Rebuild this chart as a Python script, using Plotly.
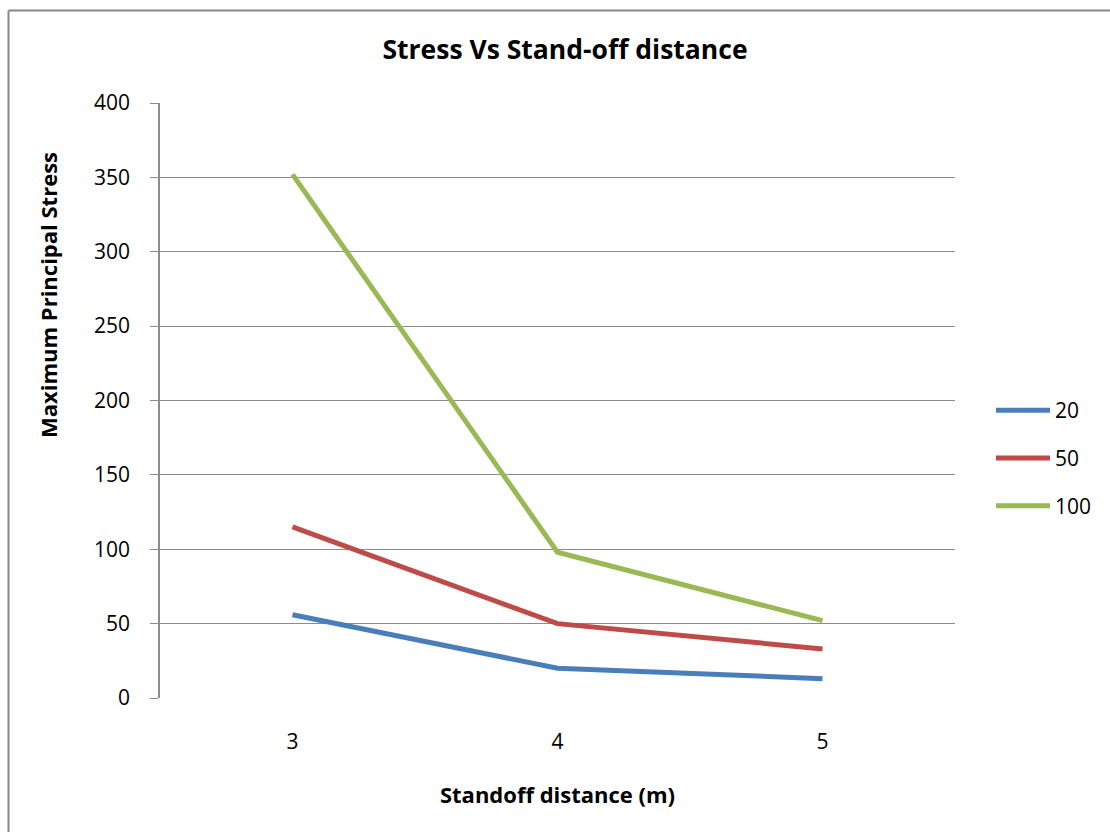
import plotly.graph_objects as go

# Standoff distances (m) and maximum principal stress for each charge weight
distances = [3, 4, 5]
series_names = ["20", "50", "100"]
stress_20 = [56, 20, 13]
stress_50 = [115, 50, 33]
stress_100 = [352, 98, 52]
y_ticks = [0, 50, 100, 150, 200, 250, 300, 350, 400]

colors = ["#4A7EBB", "#BE4B48", "#98B954"]
font_family = "'Open Sans', sans-serif"
grid_color = "#8C8C8C"

fig = go.Figure()
for name, values, color in zip(series_names, [stress_20, stress_50, stress_100], colors):
    fig.add_trace(go.Scatter(
        x=distances, y=values, name=name, mode="lines",
        line=dict(color=color, width=5), legendgroup=name,
    ))

W, H = 1110, 832
ml, mr, mt, mb = 160, 155, 103, 134
pw, ph = W - ml - mr, H - mt - mb

# outer frame of the chart area (top and left edges visible)
fx = (8.5 - ml) / pw
fy = (H - mb - 10.5) / ph
frame = dict(type="line", xref="paper", yref="paper",
             line=dict(color="#888888", width=2))
fig.add_shape(**frame, x0=fx, x1=fx, y0=fy, y1=-0.5)
fig.add_shape(**frame, x0=fx, x1=1.5, y0=fy, y1=fy)

# vertical axis title, placed toward the upper part of the axis
fig.add_annotation(
    text="<b>Maximum Principal Stress</b>", textangle=-90,
    xref="paper", yref="paper", x=(48 - ml) / pw, y=(H - mb - 295) / ph,
    xanchor="center", yanchor="middle", showarrow=False,
    font=dict(size=22, family=font_family, color="black"),
)

fig.update_layout(
    width=W, height=H,
    margin=dict(l=ml, r=mr, t=mt, b=mb),
    paper_bgcolor="white", plot_bgcolor="white",
    font=dict(family=font_family, color="black", size=21),
    title=dict(text="<b>Stress Vs Stand-off distance</b>", x=(565 - ml) / pw,
               xref="paper", xanchor="center", y=1 - 50 / H, yanchor="middle",
               font=dict(size=26.5)),
    xaxis=dict(
        range=[2.5, 5.5], tickvals=distances, ticktext=[str(d) for d in distances],
        showgrid=False, zeroline=False, showline=False, ticks="",
        ticklabelstandoff=29,
        title=dict(text="<b>Standoff distance (m)</b>", font=dict(size=22), standoff=33),
    ),
    yaxis=dict(
        range=[0, 400], tickvals=y_ticks,
        showgrid=True, gridcolor=grid_color, gridwidth=1.3,
        zeroline=False, showline=True, linecolor=grid_color, linewidth=1.5,
        ticks="outside", ticklen=8, tickcolor=grid_color, tickwidth=1.3,
        ticklabelstandoff=16,
    ),
    legend=dict(x=(991 - ml) / pw, xanchor="left", y=(H - mb - 409 + 19) / ph,
                yanchor="top", tracegroupgap=17.5, itemwidth=54,
                font=dict(size=21), bgcolor="rgba(0,0,0,0)"),
    showlegend=True,
)

fig.write_html("out.html")
